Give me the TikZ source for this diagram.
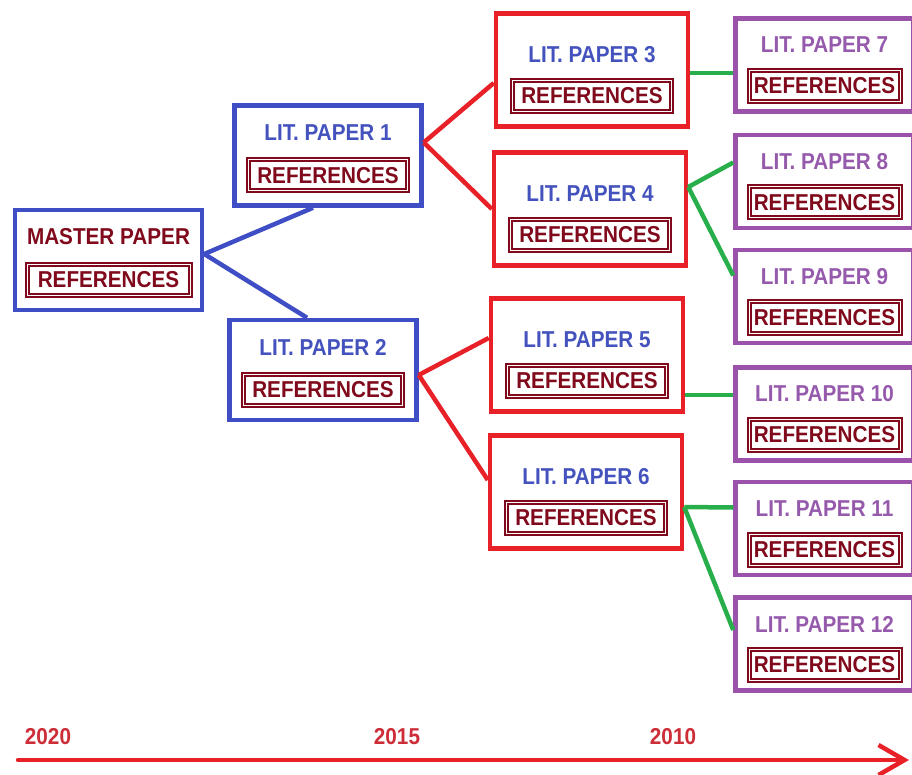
\documentclass[tikz,border=0pt]{standalone}
\usepackage{fontspec}
\setmainfont{Liberation Sans}[FakeStretch=0.9]
\usetikzlibrary{positioning,arrows.meta}
\definecolor{paperblue}{RGB}{63,78,196}
\definecolor{titleblue}{RGB}{68,82,190}
\definecolor{paperred}{RGB}{232,32,40}
\definecolor{paperpurple}{RGB}{155,82,170}
\definecolor{titlepurple}{RGB}{150,90,172}
\definecolor{papergreen}{RGB}{40,175,75}
\definecolor{refmaroon}{RGB}{128,10,28}
\definecolor{yearred}{RGB}{205,45,55}

\begin{document}
\begin{tikzpicture}[x=1pt,y=-1pt]
                \tikzstyle{every node}=[font=\fontsize{23}{26}\bfseries\selectfont, inner sep=0pt]
                \tikzstyle{box}=[draw, rectangle, line width=4.5pt]
                \tikzstyle{bluebox}=[box, draw=paperblue, minimum width=187pt, minimum height=100pt]
                \tikzstyle{redbox}=[box, draw=paperred, minimum width=192pt, minimum height=113pt]
                \tikzstyle{purplebox}=[box, draw=paperpurple, minimum width=178pt, minimum height=93pt]
                \tikzstyle{refs}=[draw=refmaroon, text=refmaroon, line width=2pt, double=white, double distance=1pt, minimum width=159pt, minimum height=31pt]
                \tikzstyle{bluetitle}=[node distance=23pt, text=titleblue]
                \tikzstyle{bluerefs}=[refs, node distance=20pt]
                \tikzstyle{redtitle}=[node distance=15pt, text=titleblue]
                \tikzstyle{redrefs}=[refs, node distance=26pt]
                \tikzstyle{purpletitle}=[node distance=20pt, text=titlepurple]
                \tikzstyle{purplerefs}=[refs, node distance=21pt, minimum width=151pt]
                \tikzstyle{bluelink}=[paperblue, line width=4.5pt]
                \tikzstyle{redlink}=[paperred, line width=4.5pt]
                \tikzstyle{greenlink}=[papergreen, line width=4.5pt]
                \tikzstyle{year}=[text=yearred]
                \useasboundingbox (0,0) rectangle (912,775);

                % papers
                \node (b0) [bluebox] at (108.5,260) {};
                \node (t0) [bluetitle, above of=b0, text=refmaroon] {MASTER PAPER};
                \node (r0) [bluerefs, below of=b0, minimum width=163pt] {REFERENCES};
                \node (b1) [bluebox] at (328,155.5) {};
                \node (t1) [bluetitle, above of=b1] {LIT. PAPER 1};
                \node (r1) [bluerefs, below of=b1] {REFERENCES};
                \node (b2) [bluebox] at (323,370) {};
                \node (t2) [bluetitle, above of=b2] {LIT. PAPER 2};
                \node (r2) [bluerefs, below of=b2] {REFERENCES};

                \node (b3) [redbox] at (592,70) {};
                \node (t3) [redtitle, above of=b3] {LIT. PAPER 3};
                \node (r3) [redrefs, below of=b3] {REFERENCES};
                \node (b4) [redbox] at (590,209) {};
                \node (t4) [redtitle, above of=b4] {LIT. PAPER 4};
                \node (r4) [redrefs, below of=b4] {REFERENCES};
                \node (b5) [redbox] at (587,355) {};
                \node (t5) [redtitle, above of=b5] {LIT. PAPER 5};
                \node (r5) [redrefs, below of=b5] {REFERENCES};
                \node (b6) [redbox] at (586,492) {};
                \node (t6) [redtitle, above of=b6] {LIT. PAPER 6};
                \node (r6) [redrefs, below of=b6] {REFERENCES};

                \node (b7) [purplebox] at (824.5,65) {};
                \node (t7) [purpletitle, above of=b7] {LIT. PAPER 7};
                \node (r7) [purplerefs, below of=b7] {REFERENCES};
                \node (b8) [purplebox] at (824.5,181.5) {};
                \node (t8) [purpletitle, above of=b8] {LIT. PAPER 8};
                \node (r8) [purplerefs, below of=b8] {REFERENCES};
                \node (b9) [purplebox] at (824.5,296.5) {};
                \node (t9) [purpletitle, above of=b9] {LIT. PAPER 9};
                \node (r9) [purplerefs, below of=b9] {REFERENCES};
                \node (b10) [purplebox] at (824.5,414) {};
                \node (t10) [purpletitle, above of=b10] {LIT. PAPER 10};
                \node (r10) [purplerefs, below of=b10] {REFERENCES};
                \node (b11) [purplebox] at (824.5,528.5) {};
                \node (t11) [purpletitle, above of=b11] {LIT. PAPER 11};
                \node (r11) [purplerefs, below of=b11] {REFERENCES};
                \node (b12) [purplebox] at (824.5,644) {};
                \node (t12) [purpletitle, above of=b12] {LIT. PAPER 12};
                \node (r12) [purplerefs, below of=b12] {REFERENCES};

                % links
                \path [bluelink] ([yshift=6pt]b0.east) edge ([xshift=-15pt]b1.south)
                                                       edge ([xshift=-16pt]b2.north);
                \path [redlink] ([yshift=13pt]b1.east) edge ([yshift=-13pt]b3.west)
                                                       edge (b4.west)
                                ([yshift=-5pt]b2.east) edge ([yshift=17pt]b5.west)
                                                       edge ([yshift=12pt]b6.west);
                \path [greenlink] ([yshift=-3pt]b3.east) edge ([yshift=-8pt]b7.west)
                                  ([yshift=22pt]b4.east) edge ([yshift=19pt]b8.west)
                                                         edge ([yshift=21pt]b9.west)
                                  ([yshift=-40pt]b5.east) edge ([yshift=19pt]b10.west)
                                  ([yshift=-15pt]b6.east) edge ([yshift=21pt]b11.west)
                                                          edge ([yshift=14pt]b12.west);

                % time line
                \node (y1) [year] at (48,737) {2020};
                \node (y2) [year] at (397,737) {2015};
                \node (y3) [year] at (673,737) {2010};
                \coordinate (s) at (18,760);
                \coordinate (e) at (909,760);
                \draw [paperred, line width=4.5pt, line cap=round, -{Straight Barb[length=26pt,width=30pt]}] (s) -- (e);
\end{tikzpicture}
\end{document}
